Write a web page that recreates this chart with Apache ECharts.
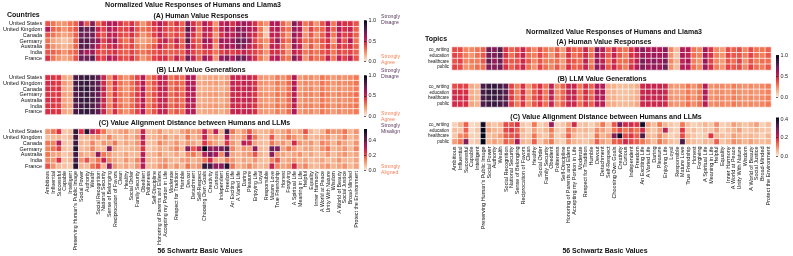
<!DOCTYPE html>
<html><head><meta charset="utf-8">
<script src="https://cdn.jsdelivr.net/npm/echarts@6/dist/echarts.min.js"></script>
<style>html,body{margin:0;padding:0;background:#fff}#c{width:793px;height:256px}</style>
</head><body><div id="c"></div>
<script>
const schwartzValues = ["Ambitious","Influential","Successful","Capable","Intelligent","Preserving Human's Public Image","Social Power","Authority","Wealth","Social Recognition","National Security","Sense of Belonging","Reciprocation of Favors","Clean","Healthy","Social Order","Family Security","Obedient","Politeness","Self-Discipline","Honoring of Parents and Elders","Accepting my Portion in Life","Moderate","Respect for Tradition","Humble","Devout","Detachment","Self-Respect","Choosing Own Goals","Creativity","Curious","Independent","Freedom","An Exciting Life","A Varied Life","Daring","Pleasure","Enjoying Life","Loyal","Responsible","Mature Love","True Friendship","Honest","Forgiving","A Spiritual Life","Meaning in Life","Helpful","Equality","Inner Harmony","A World at Peace","Unity With Nature","Wisdom","A World of Beauty","Social Justice","Broad-Minded","Protect the Environment"];
const countries = ["United States","United Kingdom","Canada","Germany","Australia","India","France"];
const topics = ["co_writing","education","healthcare","public"];

// (A) Human value responses by country (0 = strongly agree, 1 = strongly disagree)
const humanUS = [0.36,0.29,0.22,0.22,0.29,0.33,0.62,0.36,0.68,0.33,0.45,0.56,0.56,0.45,0.36,0.45,0.33,0.22,0.33,0.45,0.56,0.45,0.33,0.45,0.33,0.68,0.45,0.33,0.56,0.45,0.22,0.52,0.56,0.45,0.56,0.62,0.56,0.45,0.29,0.22,0.56,0.56,0.33,0.22,0.68,0.52,0.29,0.36,0.22,0.36,0.56,0.29,0.52,0.45,0.45,0.36];
const humanUK = [0.56,0.33,0.29,0.22,0.29,0.36,0.78,0.72,0.78,0.52,0.4,0.56,0.52,0.4,0.4,0.52,0.36,0.29,0.33,0.4,0.52,0.4,0.36,0.4,0.36,0.78,0.52,0.29,0.52,0.52,0.29,0.52,0.62,0.52,0.68,0.62,0.56,0.52,0.29,0.1,0.52,0.56,0.36,0.29,0.62,0.56,0.22,0.4,0.29,0.33,0.52,0.33,0.56,0.45,0.52,0.33];
const humanCA = [0.36,0.29,0.22,0.18,0.22,0.33,0.72,0.72,0.72,0.45,0.36,0.52,0.52,0.4,0.36,0.45,0.33,0.22,0.29,0.4,0.52,0.4,0.33,0.4,0.33,0.68,0.45,0.29,0.52,0.45,0.22,0.45,0.56,0.52,0.62,0.68,0.52,0.45,0.29,0.1,0.52,0.52,0.33,0.22,0.62,0.52,0.22,0.36,0.22,0.33,0.52,0.29,0.52,0.4,0.45,0.33];
const humanDE = [0.29,0.18,0.14,0.1,0.14,0.33,0.78,0.78,0.72,0.62,0.4,0.52,0.62,0.36,0.29,0.4,0.22,0.18,0.22,0.29,0.45,0.52,0.36,0.52,0.33,0.78,0.4,0.33,0.62,0.56,0.29,0.62,0.56,0.62,0.72,0.72,0.62,0.4,0.29,0.22,0.45,0.62,0.36,0.29,0.62,0.45,0.29,0.33,0.29,0.36,0.45,0.22,0.52,0.36,0.56,0.29];
const humanAU = [0.33,0.22,0.18,0.14,0.18,0.33,0.78,0.78,0.68,0.52,0.36,0.45,0.52,0.4,0.33,0.4,0.29,0.22,0.29,0.36,0.52,0.4,0.33,0.45,0.33,0.62,0.45,0.33,0.52,0.52,0.22,0.52,0.62,0.56,0.68,0.68,0.52,0.45,0.33,0.18,0.52,0.52,0.33,0.22,0.62,0.52,0.22,0.36,0.22,0.33,0.45,0.29,0.45,0.4,0.45,0.33];
const humanIN = [0.36,0.33,0.29,0.22,0.29,0.33,0.68,0.56,0.62,0.4,0.36,0.4,0.45,0.36,0.33,0.4,0.33,0.29,0.33,0.36,0.4,0.36,0.33,0.36,0.33,0.52,0.4,0.33,0.4,0.4,0.29,0.4,0.45,0.4,0.45,0.52,0.45,0.4,0.33,0.22,0.45,0.45,0.36,0.22,0.52,0.45,0.29,0.33,0.29,0.36,0.4,0.29,0.4,0.36,0.4,0.33];
const humanFR = [0.45,0.29,0.22,0.18,0.22,0.36,0.72,0.72,0.78,0.45,0.4,0.56,0.52,0.4,0.36,0.45,0.33,0.22,0.29,0.4,0.45,0.45,0.33,0.52,0.36,0.72,0.52,0.33,0.62,0.52,0.22,0.62,0.68,0.56,0.72,0.72,0.56,0.45,0.29,0.18,0.52,0.56,0.33,0.29,0.68,0.52,0.22,0.36,0.29,0.33,0.52,0.29,0.52,0.4,0.52,0.36];

// (B) LLM value generations by country
const llmUS = [0.45,0.43,0.43,0.18,0.15,0.8,0.84,0.86,0.82,0.75,0.5,0.25,0.45,0.29,0.22,0.3,0.4,0.56,0.27,0.36,0.5,0.5,0.29,0.36,0.3,0.55,0.55,0.16,0.17,0.18,0.19,0.16,0.2,0.5,0.5,0.5,0.5,0.45,0.22,0.2,0.2,0.27,0.22,0.3,0.56,0.2,0.24,0.24,0.2,0.28,0.24,0.2,0.24,0.22,0.24,0.28];
const llmUK = [0.47,0.44,0.42,0.2,0.16,0.82,0.85,0.86,0.8,0.74,0.48,0.27,0.46,0.3,0.23,0.31,0.41,0.55,0.28,0.37,0.52,0.49,0.3,0.35,0.31,0.56,0.54,0.17,0.18,0.19,0.2,0.17,0.21,0.51,0.49,0.52,0.5,0.44,0.23,0.21,0.21,0.28,0.23,0.31,0.55,0.21,0.25,0.23,0.21,0.29,0.25,0.21,0.25,0.23,0.25,0.29];
const llmCA = [0.46,0.42,0.44,0.17,0.14,0.81,0.86,0.87,0.81,0.76,0.51,0.24,0.44,0.28,0.21,0.29,0.39,0.57,0.26,0.35,0.51,0.51,0.28,0.37,0.29,0.54,0.56,0.15,0.16,0.17,0.18,0.15,0.19,0.49,0.51,0.49,0.51,0.46,0.21,0.19,0.19,0.26,0.21,0.29,0.57,0.19,0.23,0.25,0.19,0.27,0.23,0.19,0.23,0.21,0.23,0.27];
const llmDE = [0.44,0.41,0.42,0.19,0.17,0.79,0.83,0.85,0.8,0.73,0.49,0.26,0.43,0.3,0.24,0.32,0.42,0.54,0.29,0.38,0.49,0.48,0.31,0.38,0.32,0.53,0.53,0.18,0.19,0.2,0.21,0.18,0.22,0.48,0.48,0.51,0.49,0.43,0.24,0.22,0.22,0.29,0.24,0.32,0.54,0.22,0.26,0.26,0.22,0.3,0.26,0.22,0.26,0.24,0.26,0.3];
const llmAU = [0.46,0.44,0.43,0.18,0.15,0.81,0.85,0.86,0.82,0.75,0.5,0.25,0.45,0.29,0.22,0.3,0.4,0.56,0.27,0.36,0.5,0.5,0.29,0.36,0.3,0.55,0.55,0.16,0.17,0.18,0.19,0.16,0.2,0.5,0.5,0.5,0.5,0.45,0.22,0.2,0.2,0.27,0.22,0.3,0.56,0.2,0.24,0.24,0.2,0.28,0.24,0.2,0.24,0.22,0.24,0.28];
const llmIN = [0.43,0.42,0.41,0.2,0.17,0.78,0.82,0.84,0.79,0.72,0.47,0.27,0.43,0.31,0.24,0.31,0.41,0.53,0.29,0.37,0.48,0.48,0.31,0.37,0.31,0.53,0.52,0.18,0.19,0.2,0.21,0.18,0.22,0.48,0.47,0.48,0.48,0.43,0.24,0.22,0.22,0.29,0.24,0.31,0.53,0.22,0.26,0.26,0.22,0.29,0.26,0.22,0.26,0.24,0.26,0.29];
const llmFR = [0.45,0.43,0.44,0.18,0.15,0.81,0.85,0.87,0.83,0.76,0.5,0.25,0.46,0.29,0.22,0.3,0.4,0.57,0.27,0.36,0.51,0.5,0.29,0.36,0.3,0.56,0.55,0.16,0.17,0.18,0.19,0.16,0.2,0.5,0.51,0.5,0.5,0.45,0.22,0.2,0.2,0.27,0.22,0.3,0.57,0.2,0.24,0.24,0.2,0.28,0.24,0.2,0.24,0.22,0.24,0.28];

// (C) Alignment distance by country
const distUS = [0.12,0.16,0.24,0.05,0.06,0.48,0.24,0.5,0.3,0.24,0.16,0.07,0.08,0.1,0.12,0.07,0.1,0.28,0.07,0.08,0.12,0.07,0.08,0.06,0.1,0.14,0.1,0.12,0.28,0.12,0.3,0.08,0.45,0.16,0.08,0.12,0.2,0.1,0.07,0.08,0.12,0.08,0.1,0.14,0.08,0.1,0.2,0.08,0.05,0.08,0.16,0.12,0.12,0.16,0.08,0.12];
const distUK = [0.06,0.07,0.08,0.05,0.07,0.45,0.07,0.08,0.1,0.12,0.07,0.14,0.08,0.06,0.1,0.07,0.12,0.3,0.07,0.08,0.1,0.12,0.07,0.1,0.06,0.16,0.08,0.1,0.28,0.1,0.12,0.07,0.3,0.1,0.08,0.12,0.28,0.16,0.07,0.06,0.2,0.07,0.1,0.16,0.12,0.08,0.14,0.07,0.08,0.1,0.12,0.07,0.1,0.14,0.07,0.1];
const distCA = [0.16,0.14,0.3,0.06,0.05,0.46,0.08,0.07,0.14,0.07,0.12,0.1,0.16,0.07,0.1,0.08,0.12,0.28,0.06,0.07,0.14,0.1,0.08,0.12,0.07,0.12,0.1,0.07,0.24,0.14,0.1,0.07,0.24,0.12,0.07,0.3,0.26,0.1,0.07,0.06,0.16,0.1,0.12,0.08,0.26,0.12,0.1,0.12,0.07,0.14,0.12,0.08,0.14,0.1,0.07,0.12];
const distDE = [0.14,0.16,0.22,0.06,0.05,0.5,0.07,0.08,0.14,0.08,0.07,0.36,0.1,0.06,0.07,0.08,0.1,0.24,0.05,0.07,0.1,0.08,0.1,0.14,0.07,0.36,0.2,0.28,0.55,0.36,0.35,0.38,0.44,0.14,0.07,0.12,0.1,0.35,0.07,0.06,0.4,0.38,0.1,0.16,0.12,0.07,0.1,0.1,0.07,0.12,0.16,0.08,0.1,0.12,0.07,0.14];
const distAU = [0.16,0.1,0.1,0.05,0.07,0.46,0.1,0.08,0.1,0.35,0.16,0.12,0.08,0.07,0.1,0.07,0.08,0.3,0.07,0.08,0.12,0.08,0.07,0.1,0.06,0.14,0.16,0.1,0.3,0.38,0.32,0.14,0.4,0.1,0.08,0.1,0.12,0.2,0.08,0.06,0.36,0.12,0.1,0.08,0.1,0.12,0.08,0.1,0.07,0.08,0.12,0.07,0.1,0.12,0.08,0.1];
const distIN = [0.14,0.12,0.24,0.06,0.07,0.45,0.12,0.2,0.1,0.16,0.28,0.14,0.1,0.07,0.12,0.08,0.14,0.3,0.08,0.07,0.1,0.12,0.08,0.07,0.1,0.12,0.08,0.1,0.16,0.26,0.1,0.08,0.16,0.12,0.07,0.1,0.08,0.12,0.07,0.06,0.14,0.2,0.08,0.1,0.12,0.08,0.1,0.07,0.08,0.1,0.07,0.08,0.12,0.08,0.07,0.1];
const distFR = [0.2,0.12,0.07,0.06,0.05,0.5,0.08,0.07,0.16,0.2,0.08,0.35,0.12,0.08,0.1,0.07,0.12,0.3,0.07,0.08,0.12,0.14,0.08,0.12,0.07,0.16,0.1,0.12,0.48,0.45,0.35,0.36,0.5,0.16,0.08,0.1,0.14,0.1,0.07,0.08,0.28,0.14,0.1,0.12,0.26,0.1,0.14,0.08,0.07,0.1,0.12,0.08,0.1,0.12,0.07,0.1];

// Right figure: by topic
const humanCoWriting = [0.38,0.38,0.25,0.25,0.29,0.33,0.72,0.66,0.78,0.43,0.33,0.38,0.5,0.33,0.25,0.38,0.29,0.25,0.33,0.2,0.43,0.33,0.33,0.5,0.29,0.66,0.55,0.33,0.5,0.33,0.29,0.43,0.55,0.66,0.55,0.6,0.55,0.66,0.25,0.12,0.55,0.55,0.29,0.25,0.6,0.43,0.25,0.2,0.38,0.33,0.38,0.25,0.38,0.29,0.29,0.33];
const humanEducation = [0.4,0.36,0.27,0.22,0.3,0.35,0.7,0.68,0.75,0.45,0.3,0.4,0.52,0.3,0.27,0.4,0.3,0.22,0.35,0.22,0.45,0.3,0.35,0.48,0.3,0.6,0.5,0.35,0.52,0.35,0.27,0.45,0.5,0.62,0.58,0.62,0.58,0.62,0.22,0.1,0.58,0.52,0.3,0.27,0.58,0.45,0.27,0.22,0.4,0.35,0.36,0.27,0.4,0.3,0.27,0.35];
const humanHealthcare = [0.36,0.4,0.25,0.27,0.27,0.35,0.75,0.62,0.72,0.4,0.35,0.36,0.48,0.35,0.25,0.36,0.27,0.27,0.3,0.2,0.4,0.35,0.3,0.52,0.27,0.62,0.52,0.3,0.48,0.3,0.3,0.4,0.52,0.7,0.6,0.66,0.6,0.7,0.25,0.14,0.52,0.58,0.27,0.22,0.62,0.4,0.25,0.2,0.36,0.3,0.4,0.22,0.36,0.27,0.3,0.3];
const humanPublic = [0.4,0.38,0.22,0.25,0.3,0.3,0.68,0.66,0.72,0.45,0.33,0.4,0.5,0.3,0.22,0.4,0.3,0.25,0.35,0.22,0.45,0.33,0.35,0.5,0.3,0.64,0.55,0.35,0.5,0.35,0.27,0.45,0.55,0.68,0.6,0.64,0.6,0.72,0.22,0.12,0.55,0.55,0.3,0.25,0.6,0.45,0.27,0.22,0.4,0.35,0.38,0.25,0.4,0.3,0.27,0.35];

const llmCoWriting = [0.38,0.4,0.4,0.17,0.14,0.8,0.85,0.86,0.82,0.78,0.4,0.27,0.45,0.22,0.36,0.45,0.29,0.52,0.24,0.33,0.5,0.5,0.29,0.45,0.33,0.55,0.55,0.16,0.15,0.12,0.12,0.13,0.16,0.48,0.5,0.5,0.5,0.48,0.22,0.2,0.22,0.29,0.22,0.29,0.55,0.22,0.24,0.24,0.22,0.27,0.24,0.22,0.24,0.22,0.24,0.27];
const llmEducation = [0.47,0.46,0.46,0.16,0.13,0.81,0.86,0.87,0.83,0.78,0.41,0.26,0.46,0.21,0.35,0.46,0.28,0.53,0.23,0.32,0.51,0.51,0.28,0.46,0.32,0.56,0.56,0.15,0.14,0.11,0.11,0.12,0.15,0.49,0.51,0.51,0.51,0.49,0.21,0.19,0.21,0.28,0.21,0.28,0.56,0.21,0.23,0.23,0.21,0.26,0.23,0.21,0.23,0.21,0.23,0.26];
const llmHealthcare = [0.48,0.47,0.47,0.17,0.14,0.8,0.85,0.86,0.82,0.77,0.42,0.27,0.45,0.22,0.37,0.45,0.29,0.52,0.24,0.33,0.5,0.5,0.29,0.45,0.33,0.55,0.55,0.16,0.15,0.12,0.12,0.13,0.16,0.5,0.5,0.5,0.5,0.48,0.22,0.2,0.22,0.29,0.22,0.29,0.55,0.22,0.24,0.24,0.22,0.27,0.24,0.22,0.24,0.22,0.24,0.27];
const llmPublic = [0.47,0.46,0.46,0.18,0.15,0.79,0.84,0.85,0.81,0.77,0.41,0.28,0.44,0.23,0.36,0.44,0.3,0.51,0.25,0.34,0.49,0.49,0.3,0.44,0.34,0.54,0.54,0.17,0.16,0.13,0.13,0.14,0.17,0.48,0.49,0.49,0.49,0.47,0.23,0.21,0.23,0.3,0.23,0.3,0.54,0.23,0.25,0.25,0.23,0.28,0.25,0.23,0.25,0.23,0.25,0.28];

const distCoWriting = [0.03,0.06,0.14,0.02,0.03,0.4,0.06,0.04,0.06,0.16,0.15,0.18,0.04,0.03,0.12,0.03,0.05,0.26,0.03,0.04,0.08,0.2,0.04,0.05,0.03,0.06,0.12,0.04,0.15,0.3,0.2,0.2,0.18,0.4,0.08,0.05,0.12,0.06,0.04,0.03,0.12,0.05,0.03,0.04,0.06,0.04,0.1,0.03,0.04,0.08,0.06,0.04,0.06,0.08,0.03,0.05];
const distEducation = [0.05,0.04,0.14,0.02,0.04,0.42,0.08,0.06,0.05,0.16,0.18,0.14,0.06,0.03,0.08,0.04,0.06,0.12,0.04,0.03,0.12,0.08,0.05,0.06,0.04,0.1,0.08,0.05,0.12,0.16,0.12,0.15,0.12,0.2,0.06,0.04,0.08,0.22,0.04,0.03,0.18,0.04,0.05,0.03,0.05,0.04,0.08,0.03,0.05,0.06,0.08,0.04,0.05,0.06,0.04,0.04];
const distHealthcare = [0.04,0.1,0.12,0.03,0.03,0.42,0.05,0.06,0.08,0.14,0.15,0.16,0.05,0.04,0.12,0.05,0.04,0.1,0.03,0.05,0.14,0.06,0.04,0.05,0.03,0.12,0.06,0.08,0.28,0.4,0.16,0.18,0.14,0.34,0.06,0.05,0.1,0.06,0.03,0.04,0.16,0.06,0.04,0.03,0.04,0.18,0.06,0.05,0.04,0.08,0.06,0.05,0.06,0.05,0.03,0.06];
const distPublic = [0.08,0.12,0.28,0.03,0.04,0.42,0.06,0.08,0.06,0.14,0.12,0.24,0.06,0.05,0.14,0.04,0.08,0.12,0.04,0.03,0.1,0.06,0.05,0.04,0.06,0.14,0.08,0.06,0.14,0.15,0.2,0.16,0.14,0.12,0.08,0.05,0.12,0.08,0.05,0.04,0.34,0.06,0.05,0.04,0.06,0.05,0.14,0.04,0.06,0.1,0.08,0.06,0.08,0.06,0.05,0.06];

const leftTicksAB = [0, 0.5, 1];
const leftTicksC = [0, 0.2, 0.4];
const rightTicksC = [0, 0.2, 0.4];

// ---- build ----
const FONT = "'Liberation Sans', Arial, sans-serif";
const rocketR = ['#faebdd','#f6b48f','#f37651','#e13342','#ad1759','#701f57','#35193e','#03051a'];
function cells(rows){const d=[];rows.forEach((r,ri)=>r.forEach((v,ci)=>d.push([ci,ri,v])));return d;}

const panels = [
  {grid:{left:42,top:21,width:317,height:40}, rows:countries, data:[humanUS,humanUK,humanCA,humanDE,humanAU,humanIN,humanFR], max:1, xl:false, yfs:5.5, xfs:5.3},
  {grid:{left:42,top:75,width:317,height:39.5}, rows:countries, data:[llmUS,llmUK,llmCA,llmDE,llmAU,llmIN,llmFR], max:1, xl:false, yfs:5.5, xfs:5.3},
  {grid:{left:42,top:129,width:317,height:40}, rows:countries, data:[distUS,distUK,distCA,distDE,distAU,distIN,distFR], max:0.55, xl:true, yfs:5.5, xfs:5.3},
  {grid:{left:452,top:47,width:319,height:23}, rows:topics, data:[humanCoWriting,humanEducation,humanHealthcare,humanPublic], max:1, xl:false, yfs:4.5, xfs:5.5},
  {grid:{left:452,top:83.5,width:319,height:23.5}, rows:topics, data:[llmCoWriting,llmEducation,llmHealthcare,llmPublic], max:1, xl:false, yfs:4.5, xfs:5.5},
  {grid:{left:452,top:122,width:319,height:22.5}, rows:topics, data:[distCoWriting,distEducation,distHealthcare,distPublic], max:0.42, xl:true, yfs:4.5, xfs:5.5}
];
const cbars = [
  {grid:{left:364,top:20.5,width:3,height:41}, max:1, ticks:leftTicksAB},
  {grid:{left:364,top:75.5,width:3,height:40.5}, max:1, ticks:leftTicksAB},
  {grid:{left:364,top:129,width:3,height:41.5}, max:0.55, ticks:leftTicksC},
  {grid:{left:776,top:55,width:3,height:42}, max:1, ticks:leftTicksAB},
  {grid:{left:776,top:117.5,width:3,height:38.5}, max:0.42, ticks:rightTicksC}
];

const grid=[], xAxis=[], yAxis=[], series=[], visualMap=[], graphic=[];
panels.forEach((p,i)=>{
  grid.push(p.grid);
  xAxis.push({type:'category', gridIndex:i, data:schwartzValues, show:p.xl,
    axisLine:{show:false}, axisTick:{show:false}, splitLine:{show:false},
    axisLabel:{rotate:90, interval:0, fontSize:p.xfs, margin:2, color:'#111', fontFamily:FONT}});
  yAxis.push({type:'category', gridIndex:i, data:p.rows, inverse:true,
    axisLine:{show:false}, axisTick:{show:false}, splitLine:{show:false},
    axisLabel:{interval:0, fontSize:p.yfs, margin:3, color:'#111', fontFamily:FONT}});
  series.push({type:'heatmap', xAxisIndex:i, yAxisIndex:i, data:cells(p.data),
    itemStyle:{borderColor:'#fff', borderWidth:0.7}, emphasis:{disabled:true}});
  visualMap.push({type:'continuous', show:false, seriesIndex:i, dimension:2, min:0, max:p.max, inRange:{color:rocketR}});
});
const stops = rocketR.map((c,k)=>({offset:k/(rocketR.length-1), color:rocketR[rocketR.length-1-k]}));
cbars.forEach((c,j)=>{
  const gi = panels.length + j;
  grid.push(c.grid);
  xAxis.push({type:'value', gridIndex:gi, show:false, min:0, max:1});
  yAxis.push({type:'value', gridIndex:gi, position:'right', min:0, max:c.max,
    axisLine:{show:false}, splitLine:{show:false},
    axisTick:{show:true, length:2, lineStyle:{color:'#222', width:0.7}, customValues:c.ticks},
    axisLabel:{fontSize:5.5, margin:1.5, color:'#222', fontFamily:FONT, customValues:c.ticks, formatter:v=>v.toFixed(1)}});
  graphic.push({type:'rect', silent:true, shape:{x:c.grid.left, y:c.grid.top, width:c.grid.width, height:c.grid.height},
    style:{fill:new echarts.graphic.LinearGradient(0,0,0,1,stops)}});
});
function T(x,y,text,o){o=o||{};return {type:'text', x, y, silent:true, style:Object.assign({text, fill:'#111', font:(o.bold?'bold ':'')+(o.size||7)+'px '+FONT, textAlign:o.align||'center', textVerticalAlign:'middle'}, o.extra||{})};}
const PURPLE='#5b3a5f', ORANGE='#f4845c';
function side(x,y,text,color){return {type:'text', x, y, silent:true, style:{text, fill:color, font:'5.2px '+FONT, textAlign:'left', textVerticalAlign:'middle', lineHeight:6, width:20.6, overflow:'truncate', ellipsis:''}};}
graphic.push(
  T(193,5.5,'Normalized Value Responses of Humans and Llama3',{bold:true}),
  T(7,15,'Countries',{bold:true,align:'left'}),
  T(201,16,'(A) Human Value Responses',{bold:true}),
  T(201,70,'(B) LLM Value Generations',{bold:true}),
  T(194.5,123.5,'(C) Value Alignment Distance between Humans and LLMs',{bold:true}),
  T(200,251,'56 Schwartz Basic Values',{bold:true}),
  side(381,20,'Strongly\nDisagree',PURPLE),
  side(381,60,'Strongly\nAgree',ORANGE),
  side(381,74,'Strongly\nDisagree',PURPLE),
  side(381,116.5,'Strongly\nAgree',ORANGE),
  side(381,129,'Strongly\nMisaligned',PURPLE),
  side(381,169.5,'Strongly\nAligned',ORANGE),
  T(614,32,'Normalized Value Responses of Humans and Llama3',{bold:true}),
  T(425,39.5,'Topics',{bold:true,align:'left'}),
  T(604,42,'(A) Human Value Responses',{bold:true}),
  T(602,79,'(B) LLM Value Generations',{bold:true}),
  T(606,117,'(C) Value Alignment Distance between Humans and LLMs',{bold:true}),
  T(605,251,'56 Schwartz Basic Values',{bold:true})
);

const chart = echarts.init(document.getElementById('c'), null, {renderer:'canvas'});
chart.setOption({animation:false, backgroundColor:'#fff', textStyle:{fontFamily:FONT}, grid, xAxis, yAxis, series, visualMap, graphic});
</script></body></html>
